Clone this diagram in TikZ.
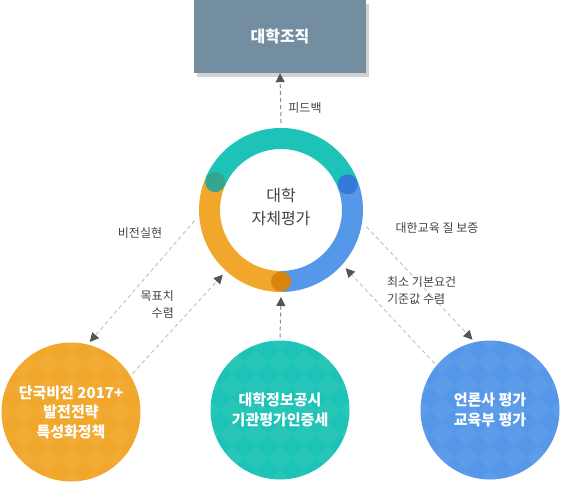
\documentclass[tikz,border=0pt]{standalone}
\usepackage{fontspec}
\setmainfont{Noto Sans CJK KR}
\usetikzlibrary{arrows.meta}
\definecolor{tealA}{HTML}{1CC3B6}
\definecolor{blueA}{HTML}{5597E8}
\definecolor{orangeA}{HTML}{F1A72B}
\definecolor{tealD}{HTML}{34A591}
\definecolor{blueD}{HTML}{3479D8}
\definecolor{orangeD}{HTML}{D7850F}
\definecolor{boxc}{HTML}{718C9E}
\definecolor{shadowc}{HTML}{D2D2D2}
\definecolor{txt}{HTML}{444444}
\definecolor{arrowc}{HTML}{555555}
\definecolor{dashc}{HTML}{C4C4C4}
\definecolor{vdashc}{HTML}{8A8A8A}
\begin{document}
\begin{tikzpicture}[x=1pt,y=1pt,
  lbl/.style={text=txt,font=\fontsize{12}{17}\selectfont,inner sep=0},
  bigc/.style={circle,minimum size=139,inner sep=0,outer sep=3,text=white,align=center,font=\bfseries\fontsize{15}{19.5}\selectfont},
  bigcbg/.style={circle,minimum size=139,inner sep=0},
  dline/.style={draw=dashc,line width=1,dash pattern=on 4pt off 3pt,-{Triangle[length=9pt,width=9pt,color=arrowc]}},
  vline/.style={dline,draw=vdashc}]
\useasboundingbox (0,0) rectangle (561,-481);
% top box
\fill[shadowc] (197,-4) rectangle (369,-77);
\node[fill=boxc,minimum width=172,minimum height=73,inner sep=0] (box) at (280,-36.5) {};
\begin{scope}
\clip (194,0) rectangle (366,-73);
\foreach \i in {-80,-76,...,180} \draw[white,opacity=0.07,line width=0.6] (194+\i,-73) -- (267+\i,0);
\end{scope}
\node[text=white,font=\bfseries\fontsize{16}{20}\selectfont] (boxt) at (box.center) {대학조직};
% ring
\draw[line width=21,tealA] (281,-210) ++(157:71.5) arc[start angle=157,end angle=21,radius=71.5];
\draw[line width=21,blueA] (281,-210) ++(21:71.5) arc[start angle=21,end angle=-90,radius=71.5];
\draw[line width=21,orangeA] (281,-210) ++(270:71.5) arc[start angle=270,end angle=157,radius=71.5];
\fill[tealD] (281,-210) ++(157:71.5) circle[radius=10];
\fill[blueD] (281,-210) ++(21:71.5) circle[radius=10];
\fill[orangeD] (281,-210) ++(270:71.5) circle[radius=10];
\node[circle,minimum size=164,inner sep=0,outer sep=5] (ring) at (281,-210) {};
\node[align=center,text=txt,font=\fontsize{16}{23}\selectfont] (ct) at (281,-207) {대학\\자체평가};
% bottom circles with faint diamond texture
\foreach \cx/\cy/\cc in {71/-412/orangeA,280/-410/tealA,490/-410/blueA}{
  \fill[\cc] (\cx,\cy) circle[radius=69.5];
  \begin{scope}
    \clip (\cx,\cy) circle[radius=69.5];
    \foreach \a in {-4,...,4}{
      \foreach \b in {-4,...,4}{
        \fill[white,opacity=0.05] (\cx+\a*24,\cy+\b*24+12) -- (\cx+\a*24+12,\cy+\b*24) -- (\cx+\a*24,\cy+\b*24-12) -- (\cx+\a*24-12,\cy+\b*24) -- cycle;
      }
    }
  \end{scope}
}
\node[bigc] (L) at (71,-412) {단국비전 2017+\\발전전략\\특성화정책};
\node[bigc] (M) at (280,-410) {대학정보공시\\기관평가인증세};
\node[bigc] (R) at (490,-410) {언론사 평가\\교육부 평가};
% connectors
\draw[vline] (ring.90) -- (box.south);
\draw[dline] (ring.187) -- (L.75);
\draw[dline] (L.32) -- (ring.228);
\draw[vline] (M.90) -- (ring.270);
\draw[dline] (ring.-11) -- (R.104);
\draw[dline] (R.140) -- (ring.-42);
% labels
\node[lbl] (l1) at (305,-108) {피드백};
\node[lbl] (l2) at (140,-233) {비전실현};
\node[lbl,align=right,anchor=east] (l3) at (174,-305) {목표치\\수렴};
\node[lbl] (l4) at (437,-228) {대한교육 질 보증};
\node[lbl,align=left,anchor=west] (l5) at (387,-291) {최소 기본요건\\기준값 수렴};
\end{tikzpicture}
\end{document}
